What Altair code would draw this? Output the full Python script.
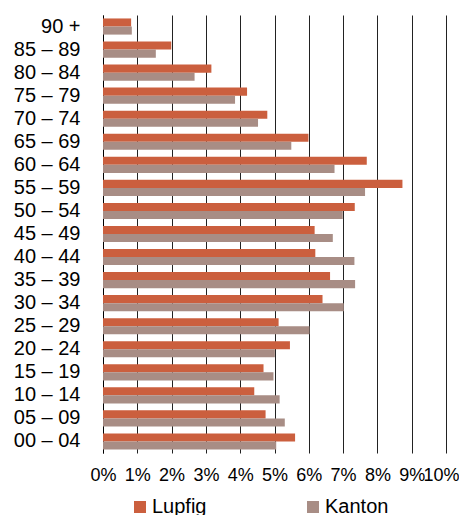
import altair as alt
import pandas as pd

ages = ["90 +", "85 – 89", "80 – 84", "75 – 79", "70 – 74", "65 – 69", "60 – 64",
        "55 – 59", "50 – 54", "45 – 49", "40 – 44", "35 – 39", "30 – 34", "25 – 29",
        "20 – 24", "15 – 19", "10 – 14", "05 – 09", "00 – 04"]
lupfig = [0.82, 1.99, 3.16, 4.2, 4.79, 5.99, 7.69, 8.73, 7.34, 6.17, 6.19, 6.62, 6.4,
          5.12, 5.45, 4.68, 4.41, 4.74, 5.6]
kanton = [0.84, 1.54, 2.67, 3.85, 4.52, 5.49, 6.75, 7.64, 6.99, 6.7, 7.33, 7.35, 7.02,
          6.02, 5.01, 4.97, 5.15, 5.3, 5.05]
series = ["Lupfig", "Kanton"]
colors = ["#CB5F3E", "#A88D85"]
ticks = list(range(0, 11))

rows = []
for a, l, k in zip(ages, lupfig, kanton):
    rows.append({"age": a, "series": "Lupfig", "value": l})
    rows.append({"age": a, "series": "Kanton", "value": k})
df = pd.DataFrame(rows)

FONT = "Liberation Sans"

chart = alt.Chart(df).mark_bar().encode(
    x=alt.X("value:Q", scale=alt.Scale(domain=[0, 10], nice=False),
            axis=alt.Axis(values=ticks, labelExpr="datum.value + '%'", title=None,
                          grid=True, gridColor="#222222", gridWidth=1,
                          domain=False, ticks=False, labelPadding=13,
                          labelOverlap=False, labelBound=False, labelFlush=False,
                          labelOffset={"condition": {"test": "datum.value == 10", "value": -5},
                                       "value": 0},
                          labelFontSize=18, labelFont=FONT, labelColor="#000000")),
    y=alt.Y("age:N", sort=ages, scale=alt.Scale(paddingInner=0.3, paddingOuter=0.15),
            axis=alt.Axis(title=None, ticks=False, labelPadding=23, domain=True,
                          domainColor="#000000", labelFontSize=20, labelFont=FONT,
                          labelColor="#000000", grid=False)),
    yOffset=alt.YOffset("series:N", sort=series),
    color=alt.Color("series:N", sort=series,
                    scale=alt.Scale(domain=series, range=colors),
                    legend=alt.Legend(title=None, orient="none", direction="horizontal",
                                      legendX=27, legendY=482, symbolType="square",
                                      symbolSize=144, symbolStrokeWidth=0,
                                      labelFontSize=20, labelFont=FONT,
                                      labelColor="#000000", labelOffset=2,
                                      columnPadding=96)),
).properties(
    width=343, height=438,
    autosize=alt.AutoSizeParams(type="none"),
    padding={"left": 95, "top": 7, "right": 13, "bottom": 80},
).configure_view(stroke=None).configure_axis(labelFont=FONT)

chart.save("out.html", embed_options={"renderer": "svg", "actions": False})
